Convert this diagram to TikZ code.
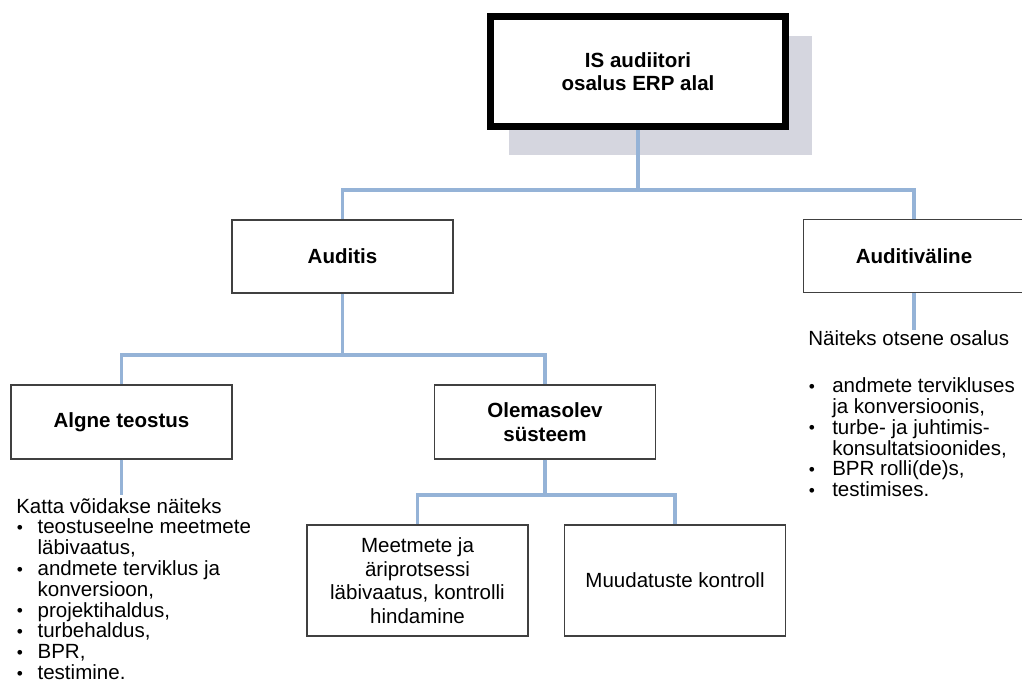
\documentclass[tikz,border=0pt]{standalone}
\usepackage{fontspec}
\setmainfont{Liberation Sans}
\definecolor{linkblue}{RGB}{149,179,215}
\definecolor{boxgray}{RGB}{64,64,64}
\definecolor{shadowgray}{RGB}{213,214,223}
\newcommand{\lbul}[1][16pt]{\makebox[#1][l]{\hspace{0.5pt}\raisebox{0.3pt}{\fontsize{13}{13}\selectfont\textbullet}}}
\tikzset{
  box/.style={draw=boxgray, line width=1.1pt, fill=white, rectangle, minimum width=166pt, minimum height=55pt, align=center, inner sep=2pt, font=\fontsize{15.4}{17.6}\selectfont},
  headbox/.style={box, font=\bfseries\fontsize{15.4}{17.6}\selectfont},
  link/.style={draw=linkblue, line width=2.5pt},
  listtext/.style={anchor=north west, inner sep=0pt, align=left, font=\fontsize{15.4}{15.6}\selectfont}
}
\begin{document}
\begin{tikzpicture}[x=0.75pt,y=0.75pt,yscale=-1,xscale=1]
\clip (0,0) rectangle (1022,684);
\fill[white] (0,0) rectangle (1022,684);

%Shadow
\fill[shadowgray] (509,36) rectangle (812,155);

%Boxes
\node [headbox, draw=black, line width=5.25pt, minimum width=221.25pt, minimum height=82.5pt] (isaudit) at (638,71.5) {IS audiitori\\osalus ERP alal};
\node [headbox] (auditis) at (342.5,256.5) {Auditis};
\node [headbox] (auditivaline) at (914,256) {Auditiväline};
\node [headbox, minimum height=55.5pt] (algne) at (121.5,422) {Algne teostus};
\node [headbox, minimum height=55.5pt] (olemasolev) at (545,422) {Olemasolev\\süsteem};
\node [box, minimum height=83.25pt] (meetmete) at (417.5,580.5) {Meetmete ja\\äriprotsessi\\läbivaatus, kontrolli\\hindamine};
\node [box, minimum height=83.25pt] (muudatuste) at (675,580.5) {Muudatuste kontroll};

%Junctions
\coordinate (j1) at (isaudit.south |- 0,190);
\coordinate (j2) at (auditis.south |- 0,355);
\coordinate (j3) at (olemasolev.south |- 0,495);
\coordinate (algneend) at (algne.south |- j3);
\coordinate (valineend) at (auditivaline.south |- 0,330);

%Straight Lines
\draw [link] (isaudit.south) -- (j1);
\draw [link] (auditis.north) |- (j1) -| (auditivaline.north);
\draw [link] (auditis.south) -- (j2);
\draw [link] (algne.north) |- (j2) -| (olemasolev.north);
\draw [link] (olemasolev.south) -- (j3);
\draw [link] (meetmete.north) |- (j3) -| (muudatuste.north);
\draw [link] (algne.south) -- (algneend);
\draw [link] (auditivaline.south) -- (valineend);

% Text Node
\node [listtext] (algnelist) at (16,498) {Katta võidakse näiteks\\
\lbul teostuseelne meetmete\\
\hspace*{16pt}läbivaatus,\\
\lbul andmete terviklus ja\\
\hspace*{16pt}konversioon,\\
\lbul projektihaldus,\\
\lbul turbehaldus,\\
\lbul BPR,\\
\lbul testimine.};
% Text Node
\node [listtext] (valinelist) at (808,330) {Näiteks otsene osalus\\[20pt]
\lbul[18pt]andmete tervikluses\\
\hspace*{18pt}ja konversioonis,\\
\lbul[18pt]turbe- ja juhtimis-\\
\hspace*{18pt}konsultatsioonides,\\
\lbul[18pt]BPR rolli(de)s,\\
\lbul[18pt]testimises.};

\end{tikzpicture}
\end{document}
